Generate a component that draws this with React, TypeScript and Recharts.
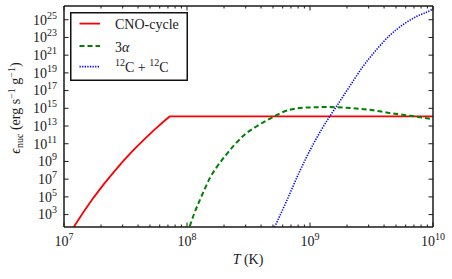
import React from 'react';
import { LineChart, Line, XAxis, YAxis, Legend } from 'recharts';

// CNO cycle
const cnoT = [1.2e7, 1.445e7, 1.74e7, 2.1e7, 2.54e7, 3.05e7, 3.68e7, 4.45e7, 5.36e7, 6.46e7, 7.23e7, 1e10];
const cnoEps = [40, 2.1e3, 8.3e4, 2.6e6, 6.3e7, 1.26e9, 2.0e10, 2.75e11, 3.2e12, 3.2e13, 1.2e14, 1.2e14];

// triple alpha
const tripleAlphaT = [1.052e8, 1.156e8, 1.268e8, 1.393e8, 1.531e8, 1.734e8, 2.03e8, 2.44e8, 2.94e8, 3.66e8, 4.7e8, 6.84e8, 9.95e8, 1.445e9, 2.1e9, 3.05e9, 4.45e9, 6.47e9, 1e10];
const tripleAlphaEps = [47, 1.9e3, 4.0e4, 7.6e5, 1.26e7, 2.0e8, 3.7e9, 7.8e10, 1.05e12, 8.9e12, 6.6e13, 6.9e14, 1.26e15, 1.38e15, 1.07e15, 6.9e14, 2.95e14, 1.45e14, 5.9e13];

// carbon burning
const carbonT = [5.16e8, 6.43e8, 8.24e8, 1.057e9, 1.445e9, 1.64e9, 2.1e9, 2.7e9, 3.47e9, 4.45e9, 5.7e9, 7.33e9, 9.7e9, 1e10];
const carbonEps = [40, 3.1e4, 7.6e7, 7.8e10, 1.2e14, 1.6e15, 3.0e17, 5.4e19, 4.1e21, 1.7e23, 2.75e24, 2.3e25, 1.35e26, 1.8e26];

const seriesNames = ['CNO-cycle', '3α', '12C + 12C'];
const seriesColors = ['#ff0000', '#008000', '#0000ff'];

const xDomain = [1e7, 1e10];
const yDomain = [Math.pow(10, 1.6), Math.pow(10, 26.55)];
const xMajorTicks = [1e7, 1e8, 1e9, 1e10];
const xMinorMultipliers = [2, 3, 4, 5, 6, 7, 8, 9];
const yTicks = [1e3, 1e5, 1e7, 1e9, 1e11, 1e13, 1e15, 1e17, 1e19, 1e21, 1e23, 1e25];

const xTicks: number[] = [];
xMajorTicks.forEach((m, i) => {
  xTicks.push(m);
  if (i < xMajorTicks.length - 1) xMinorMultipliers.forEach((k) => xTicks.push(m * k));
});

const zip = (ts: number[], es: number[]) => ts.map((T, i) => ({ T, eps: es[i] }));
const cnoData = zip(cnoT, cnoEps);
const tripleAlphaData = zip(tripleAlphaT, tripleAlphaEps);
const carbonData = zip(carbonT, carbonEps);

const FONT = '"Liberation Serif", "DejaVu Serif", serif';
const INK = '#1a1a1a';
const TICK_FS = 14;
const SUP_FS = 10;

const isMajor = (v: number) => {
  const e = Math.round(Math.log10(v));
  return Math.abs(v - Math.pow(10, e)) < v * 1e-6;
};

const BottomTick = (props: any) => {
  const { x, y, payload } = props;
  const v = payload.value;
  const major = isMajor(v);
  const e = Math.round(Math.log10(v));
  return (
    <g>
      <line x1={x} x2={x} y1={y} y2={y - (major ? 4.5 : 2.5)} stroke={INK} strokeWidth={1} />
      {major && (
        <text x={x} y={y + 19} textAnchor="middle" fontFamily={FONT} fontSize={TICK_FS} fill={INK}>
          10<tspan dy={-6} fontSize={SUP_FS}>{e}</tspan>
        </text>
      )}
    </g>
  );
};

const TopTick = (props: any) => {
  const { x, y, payload } = props;
  const major = isMajor(payload.value);
  return <line x1={x} x2={x} y1={y} y2={y + (major ? 4.5 : 2.5)} stroke={INK} strokeWidth={1} />;
};

const LeftTick = (props: any) => {
  const { x, y, payload } = props;
  const e = Math.round(Math.log10(payload.value));
  return (
    <g>
      <line x1={x} x2={x + 4.5} y1={y} y2={y} stroke={INK} strokeWidth={1} />
      <text x={x - 7} y={y + 4.8} textAnchor="end" fontFamily={FONT} fontSize={TICK_FS} fill={INK}>
        10<tspan dy={-6} fontSize={SUP_FS}>{e}</tspan>
      </text>
    </g>
  );
};

const RightTick = (props: any) => {
  const { x, y } = props;
  return <line x1={x} x2={x - 4.5} y1={y} y2={y} stroke={INK} strokeWidth={1} />;
};

const YTitle = () => (
  <text
    x={20}
    y={108}
    transform="rotate(-90 20 108)"
    textAnchor="middle"
    fontFamily={FONT}
    fontSize={14}
    fill={INK}
  >
    <tspan fontStyle="italic">ϵ</tspan>
    <tspan dy={3} fontSize={10}>nuc</tspan>
    <tspan dy={-3}> (erg s</tspan>
    <tspan dy={-5} fontSize={10}>−1</tspan>
    <tspan dy={5}> g</tspan>
    <tspan dy={-5} fontSize={10}>−1</tspan>
    <tspan dy={5}>)</tspan>
  </text>
);

const XTitle = () => (
  <text x={248} y={264} textAnchor="middle" fontFamily={FONT} fontSize={14} fill={INK}>
    <tspan fontStyle="italic">T</tspan> (K)
  </text>
);

const legendLineStyles = [
  { dash: undefined, width: 1.8 },
  { dash: '5 3', width: 2 },
  { dash: '1.3 1.3', width: 1.6 },
];

const renderName = (name: string) => {
  if (name === '12C + 12C') {
    return (
      <>
        <tspan dy={-6} fontSize={10}>12</tspan>
        <tspan dy={6}>C + </tspan>
        <tspan dy={-6} fontSize={10}>12</tspan>
        <tspan dy={6}>C</tspan>
      </>
    );
  }
  if (name === '3α') {
    return (
      <>
        3<tspan fontStyle="italic">α</tspan>
      </>
    );
  }
  return name;
};

const LegendBox = () => (
  <svg width={118} height={69} style={{ display: 'block' }}>
    <rect x={0.75} y={0.75} width={116.5} height={67.5} fill="#fff" stroke="#111" strokeWidth={1.5} />
    {seriesNames.map((n, i) => {
      const ly = [11.6, 34, 54.6][i];
      return (
        <g key={n}>
          <line
            x1={9.5}
            x2={30}
            y1={ly}
            y2={ly}
            stroke={seriesColors[i]}
            strokeWidth={legendLineStyles[i].width}
            strokeDasharray={legendLineStyles[i].dash}
          />
          <text x={45} y={ly + 5.5} fontFamily={FONT} fontSize={14} fill={INK}>
            {renderName(n)}
          </text>
        </g>
      );
    })}
  </svg>
);

const axisLineStyle = { stroke: INK, strokeWidth: 1.5 };

export default function App() {
  return (
    <div style={{ position: 'absolute', left: 0, top: 0, width: 452, height: 279, background: '#fff' }}>
      <LineChart width={452} height={279} margin={{ top: 5, right: 18, bottom: 22, left: 24 }}>
        <XAxis
          dataKey="T"
          type="number"
          scale="log"
          domain={xDomain}
          allowDataOverflow
          ticks={xTicks}
          interval={0}
          height={30}
          tickSize={0}
          tickMargin={0}
          tick={BottomTick}
          tickLine={false}
          axisLine={axisLineStyle}
          label={XTitle}
        />
        <XAxis
          xAxisId="top"
          orientation="top"
          dataKey="T"
          type="number"
          scale="log"
          domain={xDomain}
          allowDataOverflow
          ticks={xTicks}
          interval={0}
          height={1}
          tickSize={0}
          tickMargin={0}
          tick={TopTick}
          tickLine={false}
          axisLine={axisLineStyle}
        />
        <YAxis
          type="number"
          scale="log"
          domain={yDomain}
          allowDataOverflow
          ticks={yTicks}
          interval={0}
          width={40}
          tickSize={0}
          tickMargin={0}
          tick={LeftTick}
          tickLine={false}
          axisLine={axisLineStyle}
          label={YTitle}
        />
        <YAxis
          yAxisId="right"
          orientation="right"
          type="number"
          scale="log"
          domain={yDomain}
          allowDataOverflow
          ticks={yTicks}
          interval={0}
          width={1}
          tickSize={0}
          tickMargin={0}
          tick={RightTick}
          tickLine={false}
          axisLine={axisLineStyle}
        />
        <Line
          data={cnoData}
          dataKey="eps"
          name={seriesNames[0]}
          type="linear"
          stroke={seriesColors[0]}
          strokeWidth={1.8}
          dot={false}
          activeDot={false}
          isAnimationActive={false}
        />
        <Line
          data={tripleAlphaData}
          dataKey="eps"
          name={seriesNames[1]}
          type="monotone"
          stroke={seriesColors[1]}
          strokeWidth={2}
          strokeDasharray="5 3"
          dot={false}
          activeDot={false}
          isAnimationActive={false}
        />
        <Line
          data={carbonData}
          dataKey="eps"
          name={seriesNames[2]}
          type="monotone"
          stroke={seriesColors[2]}
          strokeWidth={1.6}
          strokeDasharray="1.3 1.3"
          dot={false}
          activeDot={false}
          isAnimationActive={false}
        />
        <Legend
          layout="horizontal"
          verticalAlign="middle"
          align="center"
          content={() => <LegendBox />}
          wrapperStyle={{ left: 70, top: 12, width: 118, height: 69 }}
        />
      </LineChart>
    </div>
  );
}
